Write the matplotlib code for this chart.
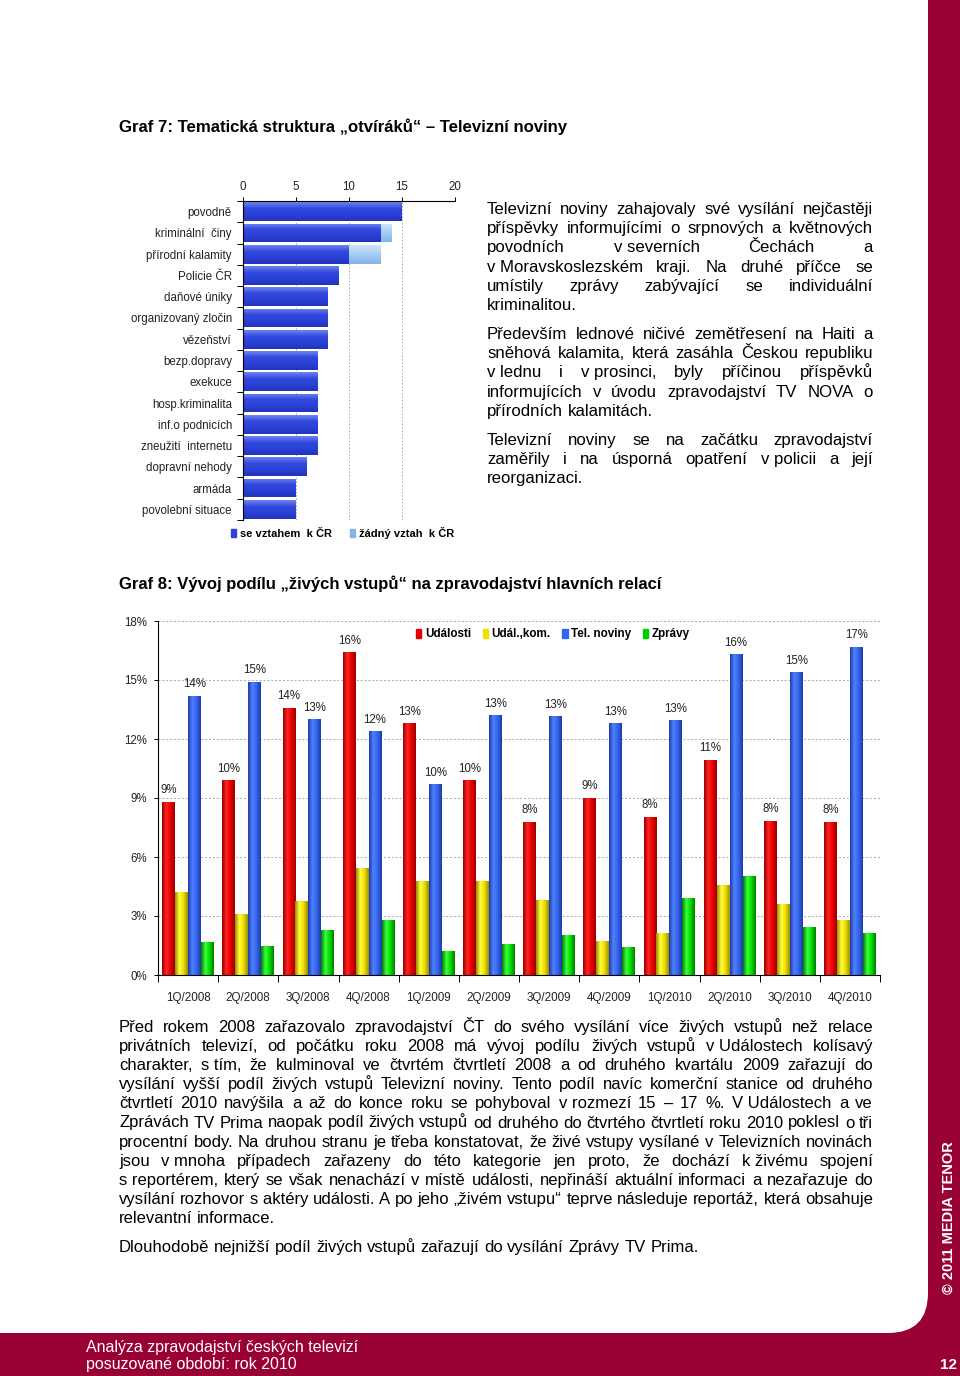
import numpy as np
import matplotlib
matplotlib.use("Agg")
import matplotlib.pyplot as plt
from matplotlib.colors import LinearSegmentedColormap
from matplotlib.patches import FancyBboxPatch, Patch

plt.rcParams['font.family'] = ['Liberation Sans', 'DejaVu Sans']

# ---------------- data ----------------
cats7 = ['povodně', 'kriminální  činy', 'přírodní kalamity', 'Policie ČR', 'daňové úniky',
         'organizovaný zločin', 'vězeňství', 'bezp.dopravy', 'exekuce', 'hosp.kriminalita',
         'inf.o podnicích', 'zneužití  internetu', 'dopravní nehody', 'armáda', 'povolební situace']
se_vztahem = [15, 13, 10, 9, 8, 8, 8, 7, 7, 7, 7, 7, 6, 5, 5]
zadny_vztah = [0, 1, 3, 0, 0, 0, 0, 0, 0, 0, 0, 0, 0, 0, 0]
legend7 = ['se vztahem  k ČR', 'žádný vztah  k ČR']
xticks7 = [0, 5, 10, 15, 20]

quarters = ['1Q/2008', '2Q/2008', '3Q/2008', '4Q/2008', '1Q/2009', '2Q/2009',
            '3Q/2009', '4Q/2009', '1Q/2010', '2Q/2010', '3Q/2010', '4Q/2010']
udalosti = [8.8, 9.9, 13.6, 16.4, 12.8, 9.9, 7.8, 9.0, 8.05, 10.95, 7.85, 7.8]
udal_kom = [4.2, 3.1, 3.75, 5.45, 4.8, 4.8, 3.8, 1.75, 2.15, 4.6, 3.6, 2.8]
tel_noviny = [14.2, 14.9, 13.0, 12.4, 9.7, 13.2, 13.15, 12.8, 12.95, 16.3, 15.4, 16.7]
zpravy = [1.7, 1.5, 2.3, 2.8, 1.2, 1.6, 2.05, 1.4, 3.9, 5.05, 2.45, 2.15]
series8 = ['Události', 'Udál.,kom.', 'Tel. noviny', 'Zprávy']
yticks8 = [0, 3, 6, 9, 12, 15, 18]

title7 = 'Graf 7: Tematická struktura „otvíráků“ – Televizní noviny'
title8 = 'Graf 8: Vývoj podílu „živých vstupů“ na zpravodajství hlavních relací'

NB = '\u00a0'
right_paras = [
    ['Televizní noviny zahajovaly své vysílání nejčastěji',
     'příspěvky informujícími o srpnových a květnových',
     'povodních v' + NB + 'severních Čechách a',
     'v' + NB + 'Moravskoslezském kraji. Na druhé příčce se',
     'umístily zprávy zabývající se individuální',
     'kriminalitou.'],
    ['Především lednové ničivé zemětřesení na Haiti a',
     'sněhová kalamita, která zasáhla Českou republiku',
     'v' + NB + 'lednu i v' + NB + 'prosinci, byly příčinou příspěvků',
     'informujících v úvodu zpravodajství TV NOVA o',
     'přírodních kalamitách.'],
    ['Televizní noviny se na začátku zpravodajství',
     'zaměřily i na úsporná opatření v' + NB + 'policii a její',
     'reorganizaci.'],
]
bottom_para = [
    'Před rokem 2008 zařazovalo zpravodajství ČT do svého vysílání více živých vstupů než relace',
    'privátních televizí, od počátku roku 2008 má vývoj podílu živých vstupů v' + NB + 'Událostech kolísavý',
    'charakter, s' + NB + 'tím, že kulminoval ve čtvrtém čtvrtletí 2008 a od druhého kvartálu 2009 zařazují do',
    'vysílání vyšší podíl živých vstupů Televizní noviny. Tento podíl navíc komerční stanice od druhého',
    'čtvrtletí 2010 navýšila a až do konce roku se pohyboval v' + NB + 'rozmezí 15 – 17 %. V' + NB + 'Událostech a ve',
    'Zprávách TV Prima naopak podíl živých vstupů od druhého do čtvrtého čtvrtletí roku 2010 poklesl o tři',
    'procentní body. Na druhou stranu je třeba konstatovat, že živé vstupy vysílané v Televizních novinách',
    'jsou v' + NB + 'mnoha případech zařazeny do této kategorie jen proto, že dochází k' + NB + 'živému spojení',
    's' + NB + 'reportérem, který se však nenachází v místě události, nepřináší aktuální informaci a nezařazuje do',
    'vysílání rozhovor s' + NB + 'aktéry události. A po jeho „živém vstupu“ teprve následuje reportáž, která obsahuje',
    'relevantní informace.',
]
last_para = ['Dlouhodobě nejnižší podíl živých vstupů zařazují do vysílání Zprávy TV Prima.']
footer = ['Analýza zpravodajství českých televizí', 'posuzované období: rok 2010']
page_no = '12'
copyright_txt = '© 2011 MEDIA TENOR'

# ---------------- figure ----------------
W, H = 960, 1376
RED = '#990033'
fig = plt.figure(figsize=(9.6, 13.76), dpi=100, facecolor=RED)
bg = fig.add_axes([0, 0, 1, 1], zorder=-5)
bg.set_xlim(0, W)
bg.set_ylim(H, 0)
bg.axis('off')
bg.add_patch(FancyBboxPatch((-100, -100), 928 + 100, 1333 + 100,
                            boxstyle='round,pad=0,rounding_size=40', fc='white', ec='none'))
renderer = fig.canvas.get_renderer()


def ax_rect(x0, y0, x1, y1):
    return [x0 / W, 1 - y1 / H, (x1 - x0) / W, (y1 - y0) / H]


def shade(ax, bars, colors, direction):
    cmap = LinearSegmentedColormap.from_list('c', colors)
    for b in bars:
        x, y = b.get_xy()
        w, h = b.get_width(), b.get_height()
        if w == 0 or h == 0:
            continue
        if direction == 'x':
            img = np.linspace(0, 1, 64)[None, :]
        else:
            img = np.linspace(0, 1, 64)[:, None]
        im = ax.imshow(img, cmap=cmap, extent=[x, x + w, y, y + h], origin='lower',
                       aspect='auto', interpolation='bilinear', zorder=b.get_zorder() + 0.1)
        im.set_clip_path(b)


# ---------------- Graf 7 ----------------
ax7 = fig.add_axes(ax_rect(243, 201, 455, 520))
ax7.set_facecolor('none')
y7 = np.arange(len(cats7))
DB, LB = '#2E44D8', '#9CC6F2'
b1 = ax7.barh(y7, se_vztahem, height=0.88, color=DB, zorder=2)
b2 = ax7.barh(y7, zadny_vztah, left=se_vztahem, height=0.88, color=LB, zorder=2)
shade(ax7, b1, ['#7084EE', '#3149DE', '#2B40D6', '#2234BC'], 'y')
shade(ax7, b2, ['#D2E7FB', '#A6CCF3', '#88B4E6'], 'y')
ax7.set_xlim(0, 20)
ax7.set_ylim(len(cats7) - 0.5, -0.5)
ax7.xaxis.tick_top()
ax7.set_xticks(xticks7)
ax7.set_xticklabels([str(v) for v in xticks7], fontsize=8.3, color='#222')
ax7.tick_params(axis='x', length=3, width=0.7, pad=3)
ax7.xaxis.grid(True, ls=(0, (1.5, 2)), color='#aaaaaa', lw=0.7, zorder=0)
ax7.set_axisbelow(True)
ax7.set_yticks(y7)
ax7.set_yticklabels(cats7, fontsize=8.3, color='#222')
ax7.tick_params(axis='y', which='major', length=0, pad=8)
ax7.set_yticks(np.arange(-0.5, len(cats7)), minor=True)
ax7.tick_params(axis='y', which='minor', length=4, width=0.7)
for s in ['right', 'bottom']:
    ax7.spines[s].set_visible(False)
for s in ['top', 'left']:
    ax7.spines[s].set_linewidth(0.8)
ax7.legend([Patch(color=DB), Patch(color='#86B4E8')], legend7, loc='center',
           bbox_to_anchor=(0.47, -0.041), ncol=2, frameon=False,
           prop=dict(weight='bold', size=8), handlelength=0.45, handleheight=0.7,
           handletextpad=0.35, columnspacing=1.6, borderaxespad=0, borderpad=0)

# ---------------- Graf 8 ----------------
ax8 = fig.add_axes(ax_rect(158, 621, 880, 975))
ax8.set_facecolor('none')
x8 = np.arange(len(quarters))
bw = 0.215
vals8 = [udalosti, udal_kom, tel_noviny, zpravy]
solid8 = ['#E80000', '#F0E000', '#3366EE', '#00D000']
grads8 = [['#9A0000', '#FF2424', '#E60000', '#9A0000'],
          ['#9A8C00', '#FFFF40', '#EEDD00', '#9A9000'],
          ['#1E3CA8', '#5080FF', '#3366EE', '#1E3AA0'],
          ['#007E00', '#3CFF3C', '#00DD00', '#007A00']]
for k, (vals, col, gr) in enumerate(zip(vals8, solid8, grads8)):
    bars = ax8.bar(x8 + (k - 1.5) * bw, vals, width=bw, color=col, zorder=2)
    shade(ax8, bars, gr, 'x')
for k in (0, 2):
    for xi, v in zip(x8 + (k - 1.5) * bw, vals8[k]):
        ax8.annotate(f'{v:.0f}%', (xi, v), xytext=(0, 4), textcoords='offset points',
                     ha='center', va='bottom', fontsize=8.3, color='#222')
ax8.set_xlim(-0.5, len(quarters) - 0.5)
ax8.set_ylim(0, 18)
ax8.set_yticks(yticks8)
ax8.set_yticklabels([f'{v}%' for v in yticks8], fontsize=8.3, color='#222')
ax8.tick_params(axis='y', length=3, width=0.7, pad=5)
ax8.yaxis.grid(True, ls=(0, (2, 2)), color='#aaaaaa', lw=0.7)
ax8.set_axisbelow(True)
ax8.set_xticks(x8)
ax8.set_xticklabels(quarters, fontsize=8.4, color='#222')
ax8.tick_params(axis='x', which='major', length=0, pad=12)
ax8.set_xticks(np.arange(-0.5, len(quarters)), minor=True)
ax8.tick_params(axis='x', which='minor', length=5, width=0.7)
for s in ['right', 'top']:
    ax8.spines[s].set_visible(False)
for s in ['left', 'bottom']:
    ax8.spines[s].set_linewidth(0.8)
ax8.legend([Patch(color=c) for c in solid8], series8, loc='center',
           bbox_to_anchor=(0.547, 0.963), ncol=4, frameon=False,
           prop=dict(weight='bold', size=8.4), handlelength=0.45, handleheight=0.8,
           handletextpad=0.3, columnspacing=1.0, borderaxespad=0, borderpad=0)

# ---------------- texts ----------------
def paragraph(lines, x0, x1, y0, dy, size, color='#000'):
    space = 0.278 * size * 100 / 72
    for i, line in enumerate(lines):
        y = y0 + i * dy
        words = line.split(' ')
        ts = [bg.text(0, y, w, fontsize=size, ha='left', va='baseline', color=color) for w in words]
        ws = [t.get_window_extent(renderer).width for t in ts]
        if i == len(lines) - 1 or len(words) == 1:
            gap = space
        else:
            gap = (x1 - x0 - sum(ws)) / (len(words) - 1)
        x = x0
        for t, w in zip(ts, ws):
            t.set_x(x)
            x += w + gap


bg.text(119, 132, title7, fontsize=12.1, weight='bold', ha='left', va='baseline')
bg.text(119, 589, title8, fontsize=12, weight='bold', ha='left', va='baseline')

starts = [214, 339, 445]
for para, ys in zip(right_paras, starts):
    paragraph(para, 487, 873, ys, 19.2, 12.1)
paragraph(bottom_para, 119, 873, 1032, 19.1, 12.0)
paragraph(last_para, 119, 873, 1252, 19.1, 12.0)

# footer
tmp = bg.text(86, 1352, footer[0], fontsize=10, color='white', ha='left', va='baseline')
fw = tmp.get_window_extent(renderer).width
fs = 10 * 273 / fw
tmp.set_fontsize(fs)
bg.text(86, 1369, footer[1], fontsize=fs, color='white', ha='left', va='baseline')
bg.text(957, 1369, page_no, fontsize=11, weight='bold', color='white', ha='right', va='baseline')
bg.text(949, 1218, copyright_txt, rotation=90, fontsize=10.5, weight='bold', color='white',
        ha='center', va='center')

fig.savefig('out.png', dpi=100, facecolor=RED)
